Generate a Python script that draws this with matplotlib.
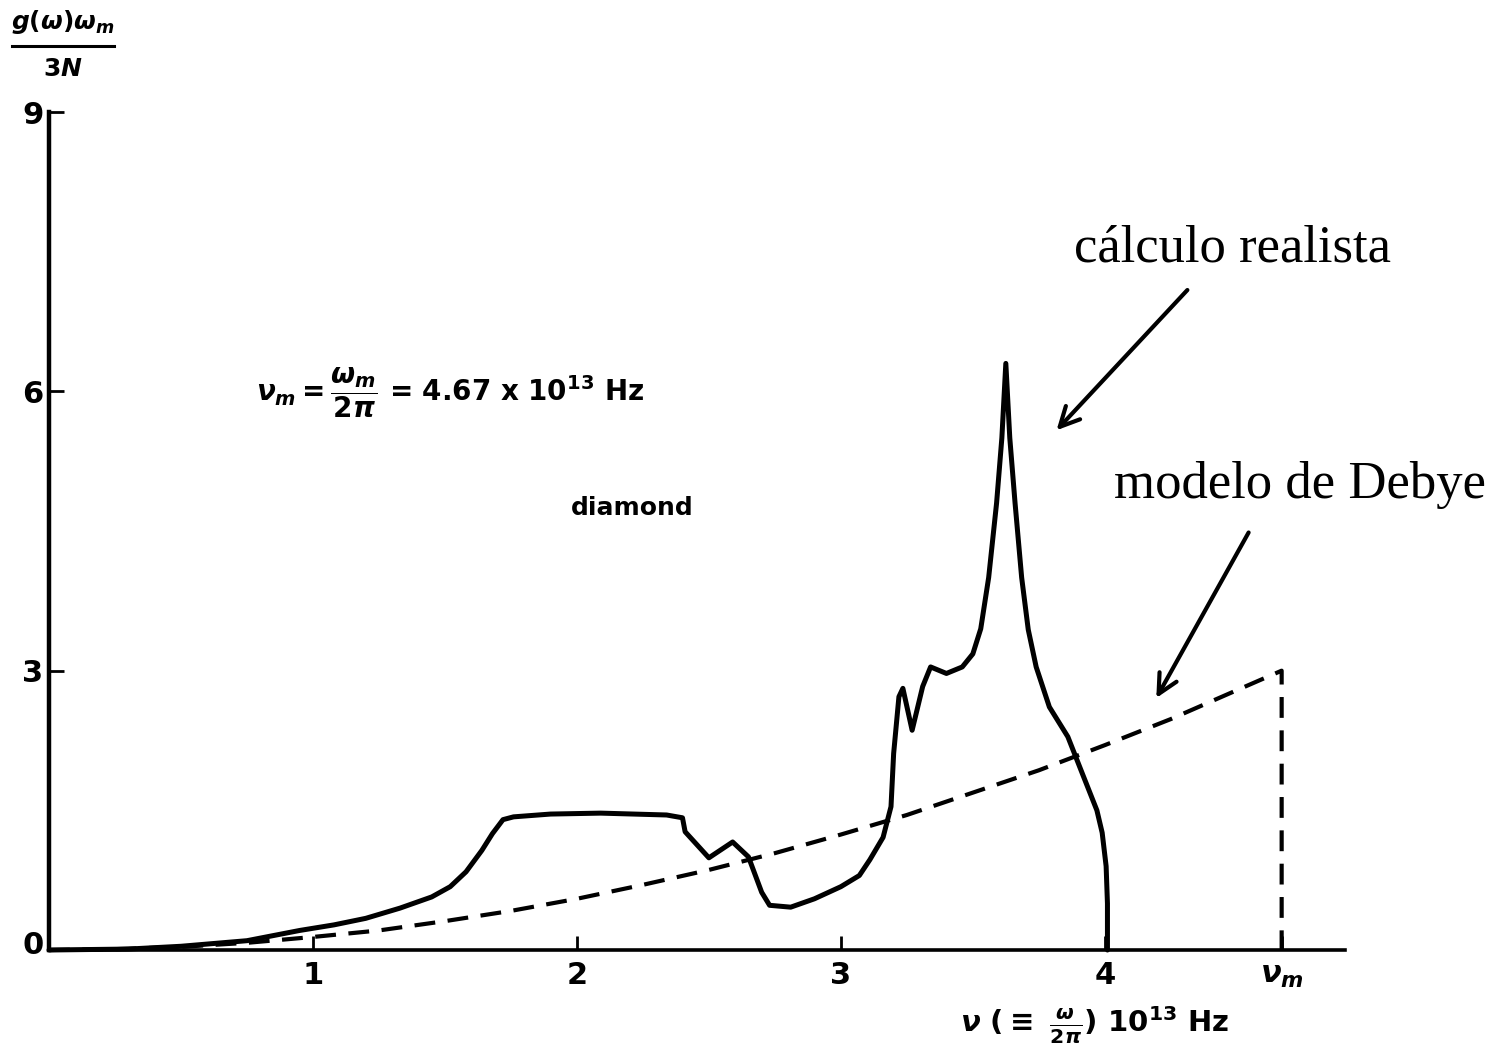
import matplotlib
matplotlib.use("Agg")
import matplotlib.pyplot as plt
from matplotlib.lines import Line2D

plt.rcParams['mathtext.fontset'] = 'custom'
plt.rcParams['mathtext.it'] = 'DejaVu Sans:italic:bold'
plt.rcParams['mathtext.rm'] = 'DejaVu Sans:bold'
plt.rcParams['mathtext.bf'] = 'DejaVu Sans:bold'
plt.rcParams['font.family'] = ['DejaVu Sans']

# --- data ---
realista_x = [0, 0.3, 0.5, 0.75, 0.95, 1.08, 1.20, 1.33, 1.45, 1.52, 1.58, 1.64, 1.68, 1.72,
              1.76, 1.9, 2.09, 2.34, 2.40,
              2.41, 2.50, 2.59, 2.65, 2.70, 2.73, 2.81, 2.9, 3.0, 3.07, 3.11, 3.16, 3.19,
              3.20, 3.22, 3.235, 3.27,
              3.31, 3.34, 3.40, 3.46, 3.50, 3.53, 3.56, 3.59, 3.61, 3.625, 3.64, 3.66,
              3.685, 3.71, 3.74, 3.79, 3.86, 3.91, 3.97, 3.99, 4.005, 4.01, 4.01]
realista_y = [0, 0.01, 0.04, 0.10, 0.21, 0.27, 0.34, 0.45, 0.57, 0.68, 0.84, 1.07, 1.25, 1.40,
              1.43, 1.46, 1.47, 1.45, 1.42,
              1.27, 0.99, 1.16, 1.0, 0.62, 0.48, 0.46, 0.55, 0.68, 0.80, 0.97, 1.21, 1.54,
              2.11, 2.72, 2.81, 2.36,
              2.83, 3.04, 2.97, 3.04, 3.18, 3.45, 4.0, 4.8, 5.5, 6.3, 5.5, 4.8,
              4.0, 3.44, 3.04, 2.61, 2.29, 1.93, 1.50, 1.26, 0.90, 0.5, 0]

debye_x = [0, 0.25, 0.5, 0.75, 1.0, 1.25, 1.5, 1.75, 2.0, 2.25, 2.5, 2.75, 3.0, 3.25,
           3.5, 3.75, 4.0, 4.25, 4.5, 4.67, 4.67]
debye_y = [0, 0.009, 0.034, 0.077, 0.14, 0.21, 0.31, 0.42, 0.55, 0.70, 0.86, 1.04, 1.24,
           1.45, 1.69, 1.93, 2.20, 2.48, 2.79, 3.0, 0]

x_ticks = [1, 2, 3, 4, 4.67]
x_tick_labels = ['1', '2', '3', '4', r'$\nu_m$']
y_ticks = [3, 6, 9]
y_tick_labels = ['3', '6', '9']

fig = plt.figure(figsize=(15.03, 10.53), dpi=100)
ax = fig.add_axes([49/1503, 1-950/1053, (1345-49)/1503, (950-112)/1053])
ax.set_xlim(0, 4.91)
ax.set_ylim(0, 9)

ax.plot(realista_x, realista_y, color='black', lw=3.6, solid_joinstyle='round',
        solid_capstyle='round', clip_on=False)
ax.plot(debye_x, debye_y, color='black', lw=3.0, linestyle=(0, (5, 3)), clip_on=False)

for s in ['top', 'right']:
    ax.spines[s].set_visible(False)
ax.spines['left'].set_linewidth(3.2)
ax.spines['bottom'].set_linewidth(2.6)

ax.set_xticks(x_ticks)
ax.set_xticklabels(x_tick_labels)
ax.set_yticks(y_ticks)
ax.set_yticklabels(y_tick_labels)
ax.tick_params(axis='x', direction='in', length=10, width=2, labelsize=22, pad=8)
ax.tick_params(axis='y', direction='in', length=11, width=2, labelsize=22, pad=4)
for lab in ax.get_xticklabels() + ax.get_yticklabels():
    lab.set_fontweight('bold')

# origin label
ax.text(-0.06, 0.05, '0', transform=ax.transData, ha='center', va='center',
        fontsize=22, fontweight='bold', clip_on=False)

# y-axis title as a fraction
fig.text(63/1503, 1-22/1053, r'$g(\omega)\omega_m$', ha='center', va='center', fontsize=18)
fig.add_artist(Line2D([12/1503, 114/1503], [1-46/1053, 1-46/1053], color='black', lw=2.2))
fig.text(63/1503, 1-69/1053, r'$3N$', ha='center', va='center', fontsize=18)

# x-axis title
fig.text(1095/1503, 1-1025/1053, r'$\nu\ (\equiv\ \frac{\omega}{2\pi})\ 10^{13}$ Hz',
         ha='center', va='center', fontsize=21, fontweight='bold')

# annotations inside
ax.text(1.52, 5.98, r'$\nu_m = \dfrac{\omega_m}{2\pi}$ = 4.67 x 10$^{13}$ Hz',
        ha='center', va='center', fontsize=20, fontweight='bold')
ax.text(2.21, 4.75, 'diamond', ha='center', va='center', fontsize=18, fontweight='bold')

serif = ['Liberation Serif', 'DejaVu Serif']
fig.text(1233/1503, 1-248/1053, 'cálculo realista', ha='center', va='center',
         fontsize=38, family=serif)
fig.text(1300/1503, 1-485/1053, 'modelo de Debye', ha='center', va='center',
         fontsize=38, family=serif)

ax.annotate('', xy=(3.81, 5.56), xytext=(4.32, 7.11), annotation_clip=False,
            arrowprops=dict(arrowstyle='->', lw=3, color='black', mutation_scale=35))
ax.annotate('', xy=(4.19, 2.68), xytext=(4.55, 4.51), annotation_clip=False,
            arrowprops=dict(arrowstyle='->', lw=3, color='black', mutation_scale=35))

fig.savefig('out.png', dpi=100)
